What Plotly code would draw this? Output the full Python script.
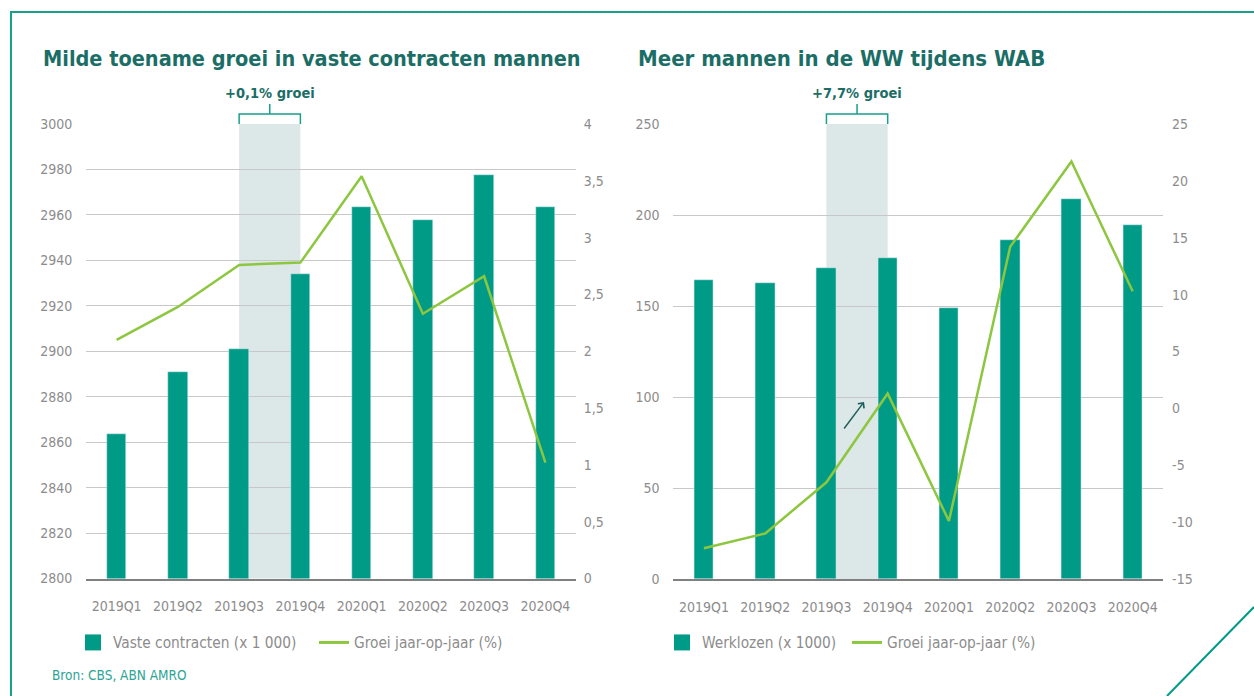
import plotly.graph_objects as go

W, H = 1254, 696

# ---- data ----
kwartalen = ['2019Q1', '2019Q2', '2019Q3', '2019Q4', '2020Q1', '2020Q2', '2020Q3', '2020Q4']

vaste_contracten = [2863.4, 2891, 2901.2, 2934.2, 2963.6, 2957.7, 2977.5, 2963.6]
groei_vast = [2.10, 2.39, 2.76, 2.78, 3.54, 2.33, 2.66, 1.02]

werklozen = [164.1, 162.6, 171.0, 176.5, 148.7, 186.3, 208.6, 194.5]
groei_ww = [-12.3, -11.0, -6.5, 1.3, -9.9, 14.2, 21.7, 10.3]

ww_groei_ticks = [-15, -10, -5, 0, 5, 10, 15, 20, 25]
ww_groei_labels = ['-15', '-10', '-5', '0', '5', '10', '15', '20', '25']

TEAL = '#009b87'
GREEN = '#8dc63f'
DARK = '#1b6e66'
FRAME = '#17a08c'
GREY_TXT = '#8c8c8c'
NARROW = 'DejaVu Sans Condensed, DejaVu Sans, sans-serif'


def px(x):
    return x / W


def py(y):
    return 1 - y / H


fig = go.Figure()

# linker grafiek
fig.add_trace(go.Bar(x=kwartalen, y=vaste_contracten, marker_color=TEAL, width=0.315,
                     showlegend=False, xaxis='x', yaxis='y'))
fig.add_trace(go.Scatter(x=kwartalen, y=groei_vast, mode='lines', line=dict(color=GREEN, width=2.5),
                         showlegend=False, xaxis='x', yaxis='y2'))
# rechter grafiek
fig.add_trace(go.Bar(x=kwartalen, y=werklozen, marker_color=TEAL, width=0.315,
                     showlegend=False, xaxis='x2', yaxis='y3'))
fig.add_trace(go.Scatter(x=kwartalen, y=groei_ww, mode='lines', line=dict(color=GREEN, width=2.5),
                         showlegend=False, xaxis='x2', yaxis='y4'))

# legenda-items
fig.add_trace(go.Scatter(x=[None], y=[None], mode='markers', name='Vaste contracten (x 1 000)',
                         marker=dict(symbol='square', size=16, color=TEAL), legend='legend',
                         legendwidth=196))
fig.add_trace(go.Scatter(x=[None], y=[None], mode='lines', name='Groei jaar-op-jaar (%)',
                         line=dict(color=GREEN, width=3), legend='legend', legendwidth=200))
fig.add_trace(go.Scatter(x=[None], y=[None], mode='markers', name='Werklozen (x 1000)',
                         marker=dict(symbol='square', size=16, color=TEAL), legend='legend2',
                         legendwidth=140))
fig.add_trace(go.Scatter(x=[None], y=[None], mode='lines', name='Groei jaar-op-jaar (%)',
                         line=dict(color=GREEN, width=3), legend='legend2', legendwidth=200))

tickfont = dict(family=NARROW, size=14, color=GREY_TXT)
xax = dict(type='category', range=[-0.5, 7.5], showgrid=False, showline=True, linecolor='#808080',
           linewidth=2, ticks='outside', ticklen=14, tickcolor='rgba(0,0,0,0)', tickfont=tickfont,
           fixedrange=True)
yax = dict(showgrid=True, gridcolor='#c8c8c8', gridwidth=1, zeroline=False, showline=False,
           ticks='outside', ticklen=10, tickcolor='rgba(0,0,0,0)', tickfont=tickfont)

legend_font = dict(family=NARROW, size=15.3, color=GREY_TXT)
fig.update_layout(
    width=W, height=H,
    margin=dict(l=0, r=0, t=0, b=0, autoexpand=False),
    paper_bgcolor='white', plot_bgcolor='white',
    separators=',.',
    bargap=0,
    xaxis=dict(xax, domain=[px(86), px(576)], anchor='y'),
    yaxis=dict(yax, domain=[py(578.5), py(124)], range=[2800, 3000], dtick=20, anchor='x'),
    yaxis2=dict(yax, overlaying='y', side='right', range=[0, 4], dtick=0.5, showgrid=False,
                anchor='x', ticklen=4),
    xaxis2=dict(xax, domain=[px(673.3), px(1163.3)], anchor='y3'),
    yaxis3=dict(yax, domain=[py(579), py(124)], range=[0, 250], dtick=50, anchor='x2'),
    yaxis4=dict(yax, overlaying='y3', side='right', range=[-15, 25], tickvals=ww_groei_ticks,
                ticktext=ww_groei_labels, showgrid=False, anchor='x2', ticklen=5),
    legend=dict(orientation='h', x=px(73), y=py(642.5), xanchor='left', yanchor='middle',
                font=legend_font, bgcolor='rgba(0,0,0,0)'),
    legend2=dict(orientation='h', x=px(662), y=py(642.5), xanchor='left', yanchor='middle',
                 font=legend_font, bgcolor='rgba(0,0,0,0)'),
)

shapes = []
# gemarkeerde periode + accolade
for xr, yr in (('x', 'y'), ('x2', 'y3')):
    shapes.append(dict(type='rect', xref=xr, yref=yr + ' domain', x0=2, x1=3, y0=0, y1=1,
                       fillcolor='#dce7e7', line=dict(width=0), layer='below'))
    yb, yt, ytop = py(124), py(114), py(104)
    shapes.append(dict(type='path', xref=xr, yref='paper',
                       path=f'M 2,{yb} L 2,{yt} L 3,{yt} L 3,{yb} M 2.5,{yt} L 2.5,{ytop}',
                       line=dict(color=FRAME, width=1.5)))

# kader
shapes.append(dict(type='line', xref='paper', yref='paper', x0=px(10), x1=1, y0=py(12), y1=py(12),
                   line=dict(color=FRAME, width=2)))
shapes.append(dict(type='line', xref='paper', yref='paper', x0=px(11), x1=px(11), y0=py(12), y1=0,
                   line=dict(color=FRAME, width=2)))
shapes.append(dict(type='line', xref='paper', yref='paper', x0=px(1167), x1=1, y0=0, y1=py(607),
                   line=dict(color=TEAL, width=2)))
fig.update_layout(shapes=shapes)

ann = [
    dict(text='<b>Milde toename groei in vaste contracten mannen</b>', x=px(41), y=py(58),
         xanchor='left', yanchor='middle', font=dict(family=NARROW, size=21.5, color=DARK)),
    dict(text='<b>Meer mannen in de WW tijdens WAB</b>', x=px(636), y=py(58),
         xanchor='left', yanchor='middle', font=dict(family=NARROW, size=22, color=DARK)),
    dict(text='<b>+0,1% groei</b>', xref='x', x=2.5, y=py(93), yanchor='middle',
         font=dict(family=NARROW, size=14.5, color=DARK)),
    dict(text='<b>+7,7% groei</b>', xref='x2', x=2.5, y=py(93), yanchor='middle',
         font=dict(family=NARROW, size=14.5, color=DARK)),
    dict(text='Bron: CBS, ABN AMRO', x=px(50), y=py(675), xanchor='left', yanchor='middle',
         font=dict(family=NARROW, size=13.5, color='#2aa594')),
    dict(text='', x=px(864), y=py(402), ax=-21, ay=28, showarrow=True, arrowhead=4,
         arrowsize=1, arrowwidth=1.5, arrowcolor='#1f5f5b'),
]
for a in ann:
    a.setdefault('xref', 'paper')
    a.setdefault('yref', 'paper')
    a.setdefault('showarrow', False)
fig.update_layout(annotations=ann)

# pagina zonder marges, grafiek vast linksboven
fix_page = (
    "document.body.style.margin='0';"
    "document.body.style.overflow='hidden';"
    "var d=document.getElementById('{plot_id}');"
    "d.style.position='fixed';d.style.top='0px';d.style.left='0px';"
)
fig.write_html('out.html', config={'displayModeBar': False}, post_script=fix_page)
